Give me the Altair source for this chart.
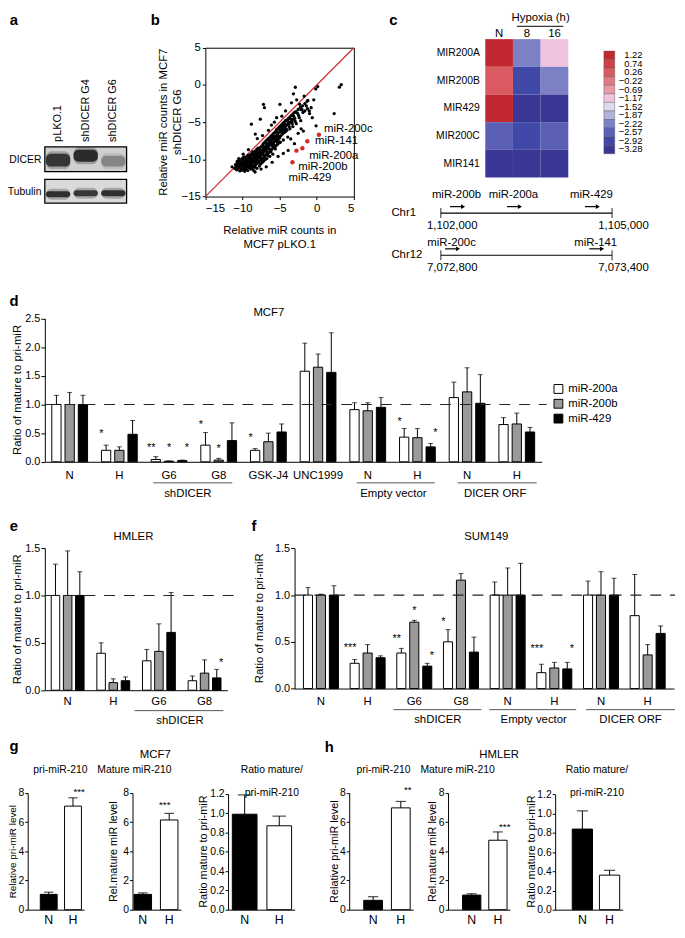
import altair as alt
import pandas as pd

# ======================= DATA =======================
# (a) western blot
blot_lanes = ["pLKO.1", "shDICER G4", "shDICER G6"]
blot_dicer_signal = [0.85, 0.92, 0.35]
blot_tubulin_signal = [0.9, 0.85, 0.9]

# (b) relative miR counts: (MCF7 pLKO.1, MCF7 shDICER G6)
scatter_pairs = [
    (-11.05, -11.2), (-10.95, -10.7), (-10.85, -11.0), (-10.75, -10.55), (-10.8, -11.4),
    (-10.6, -10.9), (-10.55, -10.45), (-10.62, -11.3), (-10.45, -11.1), (-10.38, -10.6),
    (-10.42, -10.15), (-10.35, -11.55), (-10.2, -10.8), (-10.25, -10.35), (-10.15, -11.25),
    (-10.1, -9.95), (-10.02, -10.9), (-9.95, -10.5), (-10.05, -11.45), (-9.9, -10.1),
    (-9.88, -9.75), (-9.8, -10.6), (-9.75, -11.05), (-9.82, -10.25), (-9.7, -11.6),
    (-9.65, -9.7), (-9.6, -10.3), (-9.55, -10.8), (-9.62, -11.2), (-9.5, -9.95),
    (-9.45, -10.5), (-9.4, -10.05), (-9.35, -10.65), (-9.42, -11.0), (-9.3, -9.6),
    (-9.28, -11.5), (-9.2, -10.2), (-9.15, -10.75), (-9.22, -9.45), (-9.1, -11.1),
    (-9.05, -9.9), (-9.0, -10.4), (-8.95, -10.9), (-9.02, -9.5), (-8.9, -11.3),
    (-8.85, -9.7), (-8.8, -10.2), (-8.75, -10.6), (-8.82, -9.25), (-8.7, -11.0),
    (-8.65, -9.4), (-8.6, -9.9), (-8.55, -10.5), (-8.62, -9.0), (-8.5, -10.9),
    (-8.48, -11.5), (-8.4, -9.3), (-8.35, -9.8), (-8.42, -10.3), (-8.3, -8.9),
    (-8.28, -10.8), (-8.2, -9.0), (-8.15, -9.6), (-8.22, -10.1), (-8.1, -8.7),
    (-8.12, -10.6), (-8.05, -11.2), (-8.0, -8.8), (-7.95, -9.4), (-7.98, -9.9),
    (-7.9, -10.4), (-7.92, -8.5), (-7.8, -8.6), (-7.75, -9.1), (-7.82, -9.7),
    (-7.7, -10.2), (-7.72, -10.9), (-7.6, -8.4), (-7.55, -8.9), (-7.62, -9.5),
    (-7.5, -10.0), (-7.52, -10.6), (-7.4, -8.2), (-7.35, -8.8), (-7.42, -9.3),
    (-7.3, -9.9), (-7.32, -10.4), (-7.2, -7.9), (-7.15, -8.5), (-7.22, -9.0),
    (-7.1, -9.6), (-7.12, -10.2), (-7.0, -7.7), (-6.95, -8.3), (-7.02, -8.9),
    (-6.9, -9.4), (-6.92, -10.0), (-6.8, -7.5), (-6.75, -8.1), (-6.82, -8.6),
    (-6.7, -9.2), (-6.72, -9.9), (-6.6, -7.3), (-6.55, -7.9), (-6.62, -8.5),
    (-6.5, -9.1), (-6.4, -7.1), (-6.35, -7.7), (-6.42, -8.2), (-6.3, -8.9),
    (-6.32, -9.6), (-6.2, -6.9), (-6.15, -7.5), (-6.22, -8.0), (-6.1, -8.7),
    (-6.0, -6.7), (-5.95, -7.3), (-6.02, -7.9), (-5.9, -8.5), (-5.92, -9.3),
    (-5.8, -6.5), (-5.75, -7.1), (-5.82, -7.7), (-5.7, -8.4), (-5.6, -6.3),
    (-5.55, -6.9), (-5.62, -7.5), (-5.5, -8.2), (-5.4, -6.0), (-5.35, -6.7),
    (-5.42, -7.3), (-5.3, -8.0), (-5.2, -5.8), (-5.15, -6.4), (-5.22, -7.1),
    (-5.1, -7.8), (-5.0, -5.6), (-4.95, -6.3), (-5.02, -6.9), (-4.9, -7.7),
    (-4.8, -5.4), (-4.75, -6.1), (-4.82, -6.8), (-4.6, -5.2), (-4.55, -5.9),
    (-4.62, -6.6), (-4.5, -7.4), (-4.4, -5.0), (-4.35, -5.7), (-4.42, -6.4),
    (-4.2, -4.8), (-4.15, -5.5), (-4.22, -6.3), (-4.0, -4.7), (-3.95, -5.3),
    (-4.02, -6.1), (-3.9, -7.0), (-3.8, -4.5), (-3.75, -5.2), (-3.6, -4.3),
    (-3.55, -5.0), (-3.62, -5.9), (-3.4, -4.1), (-3.35, -4.9), (-3.2, -3.9),
    (-3.15, -4.6), (-3.22, -5.6), (-3.0, -3.7), (-2.95, -4.5), (-2.8, -3.6),
    (-2.75, -5.2), (-2.5, -3.3), (-2.45, -4.1), (-2.2, -3.0), (-2.15, -4.8),
    (-1.9, -2.8), (-1.85, -3.7), (-1.6, -2.5), (-1.3, -2.2), (-1.25, -3.2), (-1.0, -3.5),
    (-10.7, -10.25), (-10.5, -10.75), (-10.3, -10.95), (-10.1, -10.45), (-9.95, -10.75),
    (-9.85, -11.3), (-9.7, -10.45), (-9.55, -10.05), (-9.45, -11.35), (-9.3, -10.35),
    (-9.18, -10.95), (-9.05, -9.7), (-8.92, -10.55), (-8.78, -9.95), (-8.68, -11.25),
    (-8.58, -10.2), (-8.45, -9.55), (-8.32, -11.05), (-8.25, -10.35), (-8.1, -9.25),
    (-8.02, -10.15), (-7.88, -9.2), (-7.78, -10.5), (-7.66, -8.7), (-7.58, -9.75),
    (-7.45, -9.05), (-7.38, -10.15), (-7.25, -8.25), (-7.18, -9.35), (-7.05, -8.6),
    (-6.98, -9.7), (-6.85, -7.8), (-6.78, -8.9), (-6.65, -8.2), (-6.58, -9.45),
    (-6.45, -7.4), (-6.38, -8.6), (-6.25, -7.75), (-6.18, -9.0), (-6.05, -7.05),
    (-5.98, -8.2), (-5.85, -6.8), (-5.78, -8.0), (-5.65, -7.2), (-5.58, -8.6),
    (-5.45, -6.35), (-5.38, -7.6), (-5.25, -6.75), (-5.18, -7.4), (-5.05, -5.95),
    (-4.98, -7.1), (-4.85, -5.75), (-4.7, -6.4), (-4.58, -5.55), (-4.45, -6.1),
    (-4.3, -5.3), (-4.1, -5.9), (-3.9, -4.9), (-3.7, -5.6), (-3.5, -4.6),
    (-3.3, -5.2), (-3.1, -4.2), (-2.9, -4.9), (-2.6, -3.8), (-2.35, -4.4), (-2.0, -3.3),
    (3.3, 0.04), (3.05, -0.3), (0.13, -0.22), (-0.13, -0.53), (-2.88, -0.31),
    (-3.14, -1.19), (-1.2, -2.08), (-1.4, -2.8), (-0.75, -3.05), (-1.6, -3.5),
    (-0.97, -3.85), (-2.1, -3.3), (2.35, -3.85), (-0.09, -5.49), (-7.17, -2.61),
    (-7.04, -3.05), (-4.96, -2.61), (-8.8, -5.27), (-8.27, -6.6), (-6.5, -6.1),
    (-7.6, -4.6), (-5.7, -5.0), (-4.7, -4.2), (-3.4, -2.4), (-2.5, -6.5),
    (-2.1, -5.9), (-3.5, -7.25), (-3.0, -7.9), (-3.85, -8.8), (-4.5, -9.2),
    (-5.2, -9.6), (-6.0, -10.4), (-6.8, -11.0), (-7.5, -11.3), (-8.3, -11.7),
    (-1.8, -6.2), (-0.6, -4.4), (-2.7, -2.0), (-4.2, -3.5), (-5.4, -4.4),
    (-6.1, -5.4), (-8.0, -7.2), (-9.2, -8.7), (-10.5, -9.9), (-11.4, -11.0),
    (-9.9, -9.3), (-7.3, -6.8), (-2.3, -2.6), (-1.7, -1.5), (-0.4, -2.0),
]
pLKO_counts = [p[0] for p in scatter_pairs]
shDICER_counts = [p[1] for p in scatter_pairs]
red_mirs = ["miR-200c", "miR-141", "miR-200a", "miR-200b", "miR-429"]
red_pLKO = [0.29, -1.27, -1.93, -2.73, -3.27]
red_shDICER = [-6.7, -7.57, -8.5, -8.83, -10.4]

# (c) heatmap + loci
heat_genes = ["MIR200A", "MIR200B", "MIR429", "MIR200C", "MIR141"]
heat_times = ["N", "8", "16"]
heat_values = [
    [1.22, -2.22, -1.17],
    [0.26, -2.92, -2.22],
    [1.22, -3.28, -3.28],
    [-2.57, -2.92, -2.57],
    [-3.28, -3.28, -3.28],
]
legend_breaks = [1.22, 0.74, 0.26, -0.22, -0.69, -1.17, -1.52, -1.87, -2.22, -2.57, -2.92, -3.28]
chr_names = ["Chr1", "Chr12"]
chr_start = [1102000, 7072800]
chr_end = [1105000, 7073400]
mir_names = ["miR-200b", "miR-200a", "miR-429", "miR-200c", "miR-141"]
mir_chr = ["Chr1", "Chr1", "Chr1", "Chr12", "Chr12"]
mir_start = [1102160, 1103160, 1104525, 7072815, 7073320]
mir_end = [1102390, 1103385, 1104750, 7072860, 7073365]

# (d) MCF7
SERIES = ["miR-200a", "miR-200b", "miR-429"]
d_groups = ["N", "H", "G6", "G8", "GSK-J4", "UNC1999", "N_ev", "H_ev", "N_orf", "H_orf"]
d_mean = {
    "miR-200a": [1.0, 0.20, 0.04, 0.29, 0.20, 1.58, 0.91, 0.43, 1.12, 0.65],
    "miR-200b": [1.0, 0.20, 0.01, 0.03, 0.35, 1.65, 0.89, 0.42, 1.22, 0.66],
    "miR-429": [1.0, 0.48, 0.02, 0.37, 0.52, 1.56, 0.95, 0.26, 1.02, 0.52],
}
d_err = {
    "miR-200a": [1.16, 0.29, 0.09, 0.51, 0.23, 2.07, 1.03, 0.58, 1.39, 0.77],
    "miR-200b": [1.21, 0.26, 0.015, 0.06, 0.50, 1.88, 1.03, 0.58, 1.64, 0.85],
    "miR-429": [1.16, 0.72, 0.03, 0.68, 0.66, 2.25, 1.12, 0.32, 1.52, 0.60],
}
d_stars = [("H", "miR-200a", "*", 0.53), ("G6", "miR-200a", "**", 0.30), ("G6", "miR-200b", "*", 0.30),
           ("G6", "miR-429", "*", 0.30), ("G8", "miR-200a", "*", 0.70), ("G8", "miR-200b", "*", 0.28),
           ("GSK-J4", "miR-200a", "*", 0.46), ("H_ev", "miR-200a", "*", 0.75), ("H_ev", "miR-429", "*", 0.55)]

# (e) HMLER
e_groups = ["N", "H", "G6", "G8"]
e_mean = {"miR-200a": [1.0, 0.39, 0.31, 0.10], "miR-200b": [1.0, 0.08, 0.41, 0.18], "miR-429": [1.0, 0.10, 0.61, 0.13]}
e_err = {"miR-200a": [1.33, 0.50, 0.43, 0.15], "miR-200b": [1.47, 0.12, 0.70, 0.32], "miR-429": [1.25, 0.14, 1.03, 0.22]}
e_stars = [("G8", "miR-429", "*", 0.32)]

# (f) SUM149
f_groups = ["N", "H", "G6", "G8", "N_ev", "H_ev", "N_orf", "H_orf"]
f_mean = {
    "miR-200a": [1.0, 0.27, 0.38, 0.50, 1.0, 0.17, 1.0, 0.78],
    "miR-200b": [1.0, 0.38, 0.71, 1.16, 1.0, 0.22, 1.0, 0.36],
    "miR-429": [1.0, 0.33, 0.24, 0.39, 1.0, 0.21, 1.0, 0.59],
}
f_err = {
    "miR-200a": [1.08, 0.31, 0.43, 0.63, 1.14, 0.26, 1.15, 1.22],
    "miR-200b": [1.01, 0.47, 0.73, 1.23, 1.29, 0.28, 1.25, 0.47],
    "miR-429": [1.10, 0.35, 0.27, 0.55, 1.34, 0.28, 1.18, 0.67],
}
f_stars = [("H", "miR-200a", "***", 0.47), ("G6", "miR-200a", "**", 0.56), ("G6", "miR-200b", "*", 0.86),
           ("G6", "miR-429", "*", 0.38), ("G8", "miR-200a", "*", 0.74), ("H_ev", "miR-200a", "***", 0.45),
           ("H_ev", "miR-429", "*", 0.45)]

# (g) MCF7 / (h) HMLER, N vs H
g_pri_mean, g_pri_err, g_pri_star = [1.05, 7.1], [1.2, 7.67], ("H", "***", 8.3)
g_mat_mean, g_mat_err, g_mat_star = [1.05, 6.15], [1.15, 6.6], ("H", "***", 7.4)
g_ratio_mean, g_ratio_err = [0.99, 0.87], [1.19, 0.97]
h_pri_mean, h_pri_err, h_pri_star = [0.64, 6.98], [0.89, 7.42], ("H", "**", 8.4)
h_mat_mean, h_mat_err, h_mat_star = [1.0, 4.76], [1.09, 5.33], ("H", "***", 5.9)
h_ratio_mean, h_ratio_err = [0.84, 0.36], [1.03, 0.41]

# ======================= STYLE / LAYOUT =======================
FONT = "Liberation Sans"
W, H = 677, 922
SERIES_FILL = {"miR-200a": "#ffffff", "miR-200b": "#9a9a9a", "miR-429": "#000000"}
HEAT_COLORS = ["#3b3794", "#4049a8", "#5b60b4", "#7c81c5", "#b2b1dc", "#dedaf0",
               "#f0c4df", "#e99aa6", "#e27a84", "#da5a62", "#d13f47", "#c2282f"]


def X(r):
    return r * 52.0 / 60.0 if r < 60 else r - 8.0


def Y(r):
    c = r - 8.0
    if r > 560:
        c -= 6.0 * (r - 560) / 376.0
    return c


layers = []


def txt(s, x, y, size=11, align="center", weight="normal", angle=0, baseline="middle", lh=None, xc=None):
    kw = dict(font=FONT, fontSize=size, align=align, baseline=baseline, fontWeight=weight, color="black")
    if angle:
        kw["angle"] = angle
    if "\n" in s:
        kw["lineBreak"] = "\n"
        kw["lineHeight"] = lh if lh else size + 3
    xv = xc if xc is not None else X(x)
    return alt.Chart(alt.Data(values=[{"t": s}])).mark_text(**kw).encode(
        text="t:N", x=alt.value(xv), y=alt.value(Y(y)))


def hline(x1, x2, y, width=1.0, color="black"):
    return alt.Chart(alt.Data(values=[{"t": 1}])).mark_rule(color=color, strokeWidth=width).encode(
        x=alt.value(X(x1)), x2=alt.value(X(x2)), y=alt.value(Y(y)))


# ---------- panel letters ----------
for letter, lx, ly in [("a", 7, 15), ("b", 157, 15), ("c", 398, 15), ("d", 7, 299), ("e", 7, 527),
                       ("f", 257, 527), ("g", 7, 752), ("h", 333, 753)]:
    layers.append(txt(letter, lx, ly, size=15, weight="bold"))

# ---------- (a) blot ----------
lane_scale = alt.Scale(domain=blot_lanes, range=[X(43), X(128)], paddingInner=0.12, paddingOuter=0.04)
blot_boxes = [("DICER", 143, 168, "#cfcfcf", blot_dicer_signal, [150, 146, 152], [163, 158, 163]),
              ("Tubulin", 176, 200, "#dadada", blot_tubulin_signal, [188, 187, 187], [194, 193, 193])]
for name, top, bot, bg, sig, btop, bbot in blot_boxes:
    layers.append(alt.Chart(alt.Data(values=[{"t": 1}])).mark_rect(fill=bg, stroke="black", strokeWidth=1.3).encode(
        x=alt.value(X(43)), x2=alt.value(X(128)), y=alt.value(Y(top)), y2=alt.value(Y(bot))))
    gel = alt.Scale(domain=[top, bot], range=[Y(top), Y(bot)], nice=False, zero=False)
    df = pd.DataFrame({"lane": blot_lanes, "s": sig, "t": btop, "b": bbot})
    df["halo"] = df["s"] * 0.3
    df["t2"] = df["t"] - 2.5
    df["b2"] = df["b"] + 2.5
    layers.append(alt.Chart(df).mark_rect(color="#1a1a1a", cornerRadius=6).encode(
        x=alt.X("lane:N", scale=lane_scale, axis=None), y=alt.Y("t2:Q", scale=gel, axis=None), y2="b2",
        opacity=alt.Opacity("halo:Q", scale=None)))
    layers.append(alt.Chart(df).mark_rect(color="#222222", cornerRadius=5).encode(
        x=alt.X("lane:N", scale=lane_scale, axis=None), y=alt.Y("t:Q", scale=gel, axis=None), y2="b",
        opacity=alt.Opacity("s:Q", scale=None)))
    layers.append(txt(name, 39, (top + bot) / 2 + 1, size=10.5, align="right"))
layers.append(alt.Chart(pd.DataFrame({"lane": blot_lanes})).mark_text(
    font=FONT, fontSize=11, angle=270, align="left", baseline="middle", color="black").encode(
    x=alt.X("lane:N", scale=lane_scale, axis=None), y=alt.value(Y(138)), text="lane:N"))

# ---------- (b) scatter ----------
bxs = alt.Scale(domain=[-15, 5], range=[X(207.7), X(358)], nice=False, zero=False)
bys = alt.Scale(domain=[-15, 5], range=[Y(193.3), Y(42.7)], nice=False, zero=False)
ticks_b = [-15, -10, -5, 0, 5]
diag = pd.DataFrame({"x": [-15], "y": [-15], "x2": [5], "y2": [5]})
layers.append(alt.Chart(diag).mark_rule(color="#cc2a2a", strokeWidth=1.2).encode(
    x=alt.X("x:Q", scale=bxs, axis=alt.Axis(orient="top", offset=-Y(42.7), labels=False, ticks=False, title=None)),
    y=alt.Y("y:Q", scale=bys, axis=alt.Axis(orient="right", offset=X(358) - W, labels=False, ticks=False, title=None)),
    x2="x2", y2="y2"))
sdf = pd.DataFrame({"x": pLKO_counts, "y": shDICER_counts})
layers.append(alt.Chart(sdf).mark_circle(size=11, color="black", opacity=1).encode(
    x=alt.X("x:Q", scale=bxs, axis=alt.Axis(orient="bottom", offset=Y(193.3) - H, values=ticks_b, tickSize=3,
                                             labelPadding=3, title=None, labelFontSize=11.5)),
    y=alt.Y("y:Q", scale=bys, axis=alt.Axis(orient="left", offset=-X(207.7), values=ticks_b, tickSize=3,
                                             labelPadding=2, title=None, labelFontSize=11.5))))
rdf = pd.DataFrame({"x": red_pLKO, "y": red_shDICER, "m": red_mirs})
layers.append(alt.Chart(rdf).mark_circle(size=20, color="#d42a2a", opacity=1).encode(
    x=alt.X("x:Q", scale=bxs, axis=None), y=alt.Y("y:Q", scale=bys, axis=None)))
red_label_pos = {"miR-200c": (0.98, -5.93), "miR-141": (-0.22, -7.52), "miR-200a": (-1.02, -9.52),
                 "miR-200b": (-2.48, -10.98), "miR-429": (-3.8, -12.57)}
ldf = pd.DataFrame({"m": red_mirs, "lx": [red_label_pos[m][0] for m in red_mirs],
                    "ly": [red_label_pos[m][1] for m in red_mirs]})
layers.append(alt.Chart(ldf).mark_text(font=FONT, fontSize=11.5, align="left", baseline="middle",
                                       color="black").encode(
    x=alt.X("lx:Q", scale=bxs, axis=None), y=alt.Y("ly:Q", scale=bys, axis=None), text="m:N"))
layers.append(txt("Relative miR counts in MCF7\nshDICER G6", 165.5, 118, size=11.5, angle=270, lh=15))
layers.append(txt("Relative miR counts in\nMCF7 pLKO.1", 283, 228, size=11.5, lh=14))

# ---------- (c) heatmap ----------
asc = sorted(legend_breaks)
thresholds = [(a + b) / 2 for a, b in zip(asc[:-1], asc[1:])]
cscale = alt.Scale(type="threshold", domain=thresholds, range=HEAT_COLORS)
hrows = [{"gene": g, "time": t, "z": heat_values[i][j]} for i, g in enumerate(heat_genes)
         for j, t in enumerate(heat_times)]
layers.append(alt.Chart(pd.DataFrame(hrows)).mark_rect().encode(
    x=alt.X("time:N", sort=heat_times,
            scale=alt.Scale(domain=heat_times, range=[X(491), X(575)], paddingInner=0, paddingOuter=0),
            axis=alt.Axis(orient="top", offset=-Y(34), ticks=False, tickSize=0, domain=False, labelPadding=1,
                          labelAngle=0, title=None, labelFontSize=11.5)),
    y=alt.Y("gene:N", sort=heat_genes,
            scale=alt.Scale(domain=heat_genes, range=[Y(34), Y(174)], paddingInner=0, paddingOuter=0),
            axis=alt.Axis(orient="left", offset=-X(491), ticks=False, tickSize=0, domain=False, labelPadding=6,
                          title=None, labelFontSize=10.5)),
    color=alt.Color("z:Q", scale=cscale, legend=None)))
layers.append(txt("Hypoxia (h)", 547, 13, size=11.5))
layers.append(hline(523, 570, 21))
leg_labels = [("%.2f" % v).replace("-", "\u2212") for v in legend_breaks]
legdf = pd.DataFrame({"lab": leg_labels, "z": legend_breaks})
leg_y = alt.Scale(domain=leg_labels, range=[Y(46), Y(150)], paddingInner=0, paddingOuter=0)
layers.append(alt.Chart(legdf).mark_rect(stroke="#555555", strokeWidth=0.4).encode(
    y=alt.Y("lab:N", sort=leg_labels, scale=leg_y, axis=None), x=alt.value(X(611)), x2=alt.value(X(622)),
    color=alt.Color("z:Q", scale=cscale, legend=None)))
layers.append(alt.Chart(legdf).mark_text(font=FONT, fontSize=9.5, align="right", baseline="middle",
                                         color="black").encode(
    y=alt.Y("lab:N", sort=leg_labels, scale=leg_y, axis=None), x=alt.value(X(650)), text="lab:N"))

# loci
chr_y = alt.Scale(type="point", domain=chr_names, range=[Y(210), Y(252.7)], padding=0)
label_dy = {"Chr1": -18.3, "Chr12": -12.0}
for ci, cname in enumerate(chr_names):
    gs = alt.Scale(domain=[chr_start[ci], chr_end[ci]], range=[X(446), X(619.3)], nice=False, zero=False)
    ldf2 = pd.DataFrame({"chr": [cname], "s": [chr_start[ci]], "e": [chr_end[ci]]})
    layers.append(alt.Chart(ldf2).mark_rule(color="black", strokeWidth=1.2).encode(
        x=alt.X("s:Q", scale=gs, axis=None), x2="e", y=alt.Y("chr:N", scale=chr_y, axis=None)))
    edf = pd.DataFrame({"chr": [cname, cname], "p": [chr_start[ci], chr_end[ci]],
                        "lab": ["{:,}".format(chr_start[ci]), "{:,}".format(chr_end[ci])]})
    layers.append(alt.Chart(edf).mark_tick(orient="vertical", size=10, thickness=1.2, color="black").encode(
        x=alt.X("p:Q", scale=gs, axis=None), y=alt.Y("chr:N", scale=chr_y, axis=None)))
    layers.append(alt.Chart(edf).mark_text(font=FONT, fontSize=11.5, dx=11.5, dy=13.3, color="black").encode(
        x=alt.X("p:Q", scale=gs, axis=None), y=alt.Y("chr:N", scale=chr_y, axis=None), text="lab:N"))
    mdf = pd.DataFrame({"m": mir_names, "chr": mir_chr, "s": mir_start, "e": mir_end})
    mdf = mdf[mdf["chr"] == cname].copy()
    mdf["mid"] = (mdf["s"] + mdf["e"]) / 2
    layers.append(alt.Chart(mdf).mark_rule(color="black", strokeWidth=1.2, yOffset=-6.5).encode(
        x=alt.X("s:Q", scale=gs, axis=None), x2="e", y=alt.Y("chr:N", scale=chr_y, axis=None)))
    layers.append(alt.Chart(mdf).mark_point(shape="triangle-right", filled=True, size=22, color="black",
                                            opacity=1, yOffset=-6.5).encode(
        x=alt.X("e:Q", scale=gs, axis=None), y=alt.Y("chr:N", scale=chr_y, axis=None)))
    layers.append(alt.Chart(mdf).mark_text(font=FONT, fontSize=11.5, dy=label_dy[cname], color="black").encode(
        x=alt.X("mid:Q", scale=gs, axis=None), y=alt.Y("chr:N", scale=chr_y, axis=None), text="m:N"))
layers.append(alt.Chart(pd.DataFrame({"chr": chr_names})).mark_text(
    font=FONT, fontSize=11.5, align="left", baseline="middle", color="black").encode(
    x=alt.value(X(396)), y=alt.Y("chr:N", scale=chr_y, axis=None), text="chr:N"))


# ---------- grouped bar panels ----------
def bar_panel(groups, vals, errs, stars, x0, x1, pi, po, ybase, ytop, ydom, yticks, dash_end,
              label_pad, sub_pi=0.3, cap=5):
    n = len(groups)
    xa, xb = X(x0), X(x1)
    step = (xb - xa) / (n - pi + 2 * po)
    bw = step * (1 - pi)
    xs = alt.Scale(domain=groups, range=[xa, xb], paddingInner=pi, paddingOuter=po)
    xo = alt.Scale(domain=SERIES, range=[0, bw], paddingInner=sub_pi, paddingOuter=0)
    ys = alt.Scale(domain=ydom, range=[Y(ybase), Y(ytop)], nice=False, zero=False)
    rows = []
    for s in SERIES:
        for g, v, e in zip(groups, vals[s], errs[s]):
            rows.append({"g": g, "s": s, "v": v, "e": e, "fill": SERIES_FILL[s]})
    df = pd.DataFrame(rows)
    xax = alt.Axis(orient="bottom", offset=Y(ybase) - H, ticks=False, tickSize=0, labelPadding=label_pad,
                   labelAngle=0, labelExpr="split(datum.label, '_')[0]", title=None, labelFontSize=11.5)
    yax = alt.Axis(orient="left", offset=-xa, values=yticks, format=".1f", tickSize=4, labelPadding=1,
                   title=None, labelFontSize=11)
    X0 = alt.X("g:N", scale=xs, sort=groups, axis=None)
    XO = alt.XOffset("s:N", scale=xo, sort=SERIES)
    out = [
        alt.Chart(df).mark_bar(stroke="black", strokeWidth=1).encode(
            x=alt.X("g:N", scale=xs, sort=groups, axis=xax), xOffset=XO,
            y=alt.Y("v:Q", scale=ys, axis=yax), fill=alt.Fill("fill:N", scale=None)),
        alt.Chart(df).mark_rule(color="black", strokeWidth=1).encode(
            x=X0, xOffset=XO, y=alt.Y("v:Q", scale=ys, axis=None), y2="e"),
        alt.Chart(df).mark_tick(orient="horizontal", size=cap, thickness=1, color="black").encode(
            x=X0, xOffset=XO, y=alt.Y("e:Q", scale=ys, axis=None)),
        alt.Chart(alt.Data(values=[{"v": 1.0}])).mark_rule(color="#222222", strokeWidth=1.1,
                                                          strokeDash=[11, 9]).encode(
            x=alt.value(xa), x2=alt.value(X(dash_end)), y=alt.Y("v:Q", scale=ys, axis=None)),
    ]
    if stars:
        sdf2 = pd.DataFrame(stars, columns=["g", "s", "t", "y"])
        out.append(alt.Chart(sdf2).mark_text(font=FONT, fontSize=11, dy=3, color="black").encode(
            x=X0, xOffset=XO, y=alt.Y("y:Q", scale=ys, axis=None), text="t:N"))
    return out


# (d)
layers += bar_panel(d_groups, d_mean, d_err, d_stars, 43, 548, 0.28, 0.14, 461.7, 316.7, [0, 2.5],
                    [0, 0.5, 1.0, 1.5, 2.0, 2.5], 553, label_pad=8)
layers.append(txt("MCF7", 272, 311, size=11.5))
layers.append(txt("Ratio of mature to pri-miR", 12, 389, size=11.5, angle=270))
for x1, x2, xt, lab in [(155, 235, 190, "shDICER"), (361, 440, 398, "Empty vector"), (463, 543, 501, "DICER ORF")]:
    layers.append(hline(x1, x2, 483, color="#555555"))
    layers.append(txt(lab, xt, 494, size=11.5))
leg_s = alt.Scale(type="point", domain=SERIES, range=[Y(388), Y(418)], padding=0)
legd = pd.DataFrame({"s": SERIES, "fill": [SERIES_FILL[s] for s in SERIES]})
layers.append(alt.Chart(legd).mark_point(shape="square", filled=True, size=80, stroke="black",
                                         strokeWidth=1, opacity=1).encode(
    x=alt.value(X(565)), y=alt.Y("s:N", scale=leg_s, axis=None), fill=alt.Fill("fill:N", scale=None)))
layers.append(alt.Chart(legd).mark_text(font=FONT, fontSize=11.5, align="left", baseline="middle",
                                        color="black").encode(
    x=alt.value(X(575)), y=alt.Y("s:N", scale=leg_s, axis=None), text="s:N"))

# (e)
layers += bar_panel(e_groups, e_mean, e_err, e_stars, 43, 230, 0.28, 0.14, 695, 549, [0, 1.5],
                    [0, 0.5, 1.0, 1.5], 238, label_pad=5)
layers.append(txt("HMLER", 135, 538, size=11.5))
layers.append(txt("Ratio of mature to pri-miR", 12, 622, size=11.5, angle=270))
layers.append(hline(136, 226, 716, color="#555555"))
layers.append(txt("shDICER", 182, 727, size=11.5))

# (f)
layers += bar_panel(f_groups, f_mean, f_err, f_stars, 298, 682, 0.25, 0.19, 693.3, 549.3, [0, 1.5],
                    [0, 0.5, 1.0, 1.5], 683, label_pad=7)
layers.append(txt("SUM149", 492, 538, size=11.5))
layers.append(txt("Ratio of mature to pri-miR", 263, 621, size=11.5, angle=270))
for x1, x2, xt, lab in [(398, 487, 443, "shDICER"), (495, 583, 540, "Empty vector"), (593, 683, 638, "DICER ORF")]:
    layers.append(hline(x1, x2, 715, color="#555555"))
    layers.append(txt(lab, xt, 726, size=11.5))


# ---------- (g), (h) ----------
def mini_panel(mean, err, star, ax, n0, n1, h0, h1, end, ydom, yticks, yfmt, ytop, ybase=920.7):
    keys = ["N", "H"]
    xa, xe = X(ax), X(end)
    w = ((X(n1) - X(n0)) + (X(h1) - X(h0))) / 2
    gap = X(h0) - X(n1)
    step = w + gap
    pi = gap / step
    leftover = (xe - xa) - (2 * step - gap)
    po = leftover / (2 * step)
    align = (X(n0) - xa) / leftover
    xs = alt.Scale(domain=keys, range=[xa, xe], paddingInner=pi, paddingOuter=po, align=align)
    ys = alt.Scale(domain=ydom, range=[Y(ybase), Y(ytop)], nice=False, zero=False)
    df = pd.DataFrame({"k": keys, "v": mean, "e": err, "fill": ["#000000", "#ffffff"]})
    X0 = alt.X("k:N", scale=xs, sort=keys, axis=None)
    out = [
        alt.Chart(df).mark_bar(stroke="black", strokeWidth=1).encode(
            x=alt.X("k:N", scale=xs, sort=keys,
                    axis=alt.Axis(orient="bottom", offset=Y(ybase) - H, ticks=False, tickSize=0, labelPadding=4,
                                  labelAngle=0, title=None, labelFontSize=12.5)),
            y=alt.Y("v:Q", scale=ys, axis=alt.Axis(orient="left", offset=-xa, values=yticks, format=yfmt,
                                                   tickSize=3, labelPadding=1, title=None, labelFontSize=10.5)),
            fill=alt.Fill("fill:N", scale=None)),
        alt.Chart(df).mark_rule(color="black", strokeWidth=1).encode(
            x=X0, y=alt.Y("v:Q", scale=ys, axis=None), y2="e"),
        alt.Chart(df).mark_tick(orient="horizontal", size=w * 0.55, thickness=1.2, color="black").encode(
            x=X0, y=alt.Y("e:Q", scale=ys, axis=None)),
    ]
    if star:
        sd = pd.DataFrame({"k": [star[0]], "t": [star[1]], "y": [star[2]]})
        out.append(alt.Chart(sd).mark_text(font=FONT, fontSize=10, dy=3, color="black").encode(
            x=X0, y=alt.Y("y:Q", scale=ys, axis=None), text="t:N"))
    return out


t8 = [0, 2, 4, 6, 8]
t12 = [0, 0.2, 0.4, 0.6, 0.8, 1.0, 1.2]
layers += mini_panel(g_pri_mean, g_pri_err, g_pri_star, 23, 37.7, 56, 64, 82.3, 85, [0, 8], t8, "d", 800.7)
layers += mini_panel(g_mat_mean, g_mat_err, g_mat_star, 134, 135.5, 152.7, 161.7, 180, 183, [0, 8], t8, "d", 800.7)
layers += mini_panel(g_ratio_mean, g_ratio_err, None, 230.7, 235, 260, 270, 295, 298, [0, 1.2], t12, ".1f", 801.7)
layers += mini_panel(h_pri_mean, h_pri_err, h_pri_star, 353.3, 368, 388, 397, 415, 418, [0, 8], t8, "d", 800.7)
layers += mini_panel(h_mat_mean, h_mat_err, h_mat_star, 453.3, 468, 487, 495, 513, 516, [0, 8], t8, "d", 800.7)
layers += mini_panel(h_ratio_mean, h_ratio_err, None, 561.7, 579, 600, 607, 627, 630, [0, 1.2], t12, ".1f", 802.3)

layers.append(txt("MCF7", 157, 762, size=11.5))
layers.append(txt("pri-miR-210", 61, 777, size=10.5))
layers.append(txt("Mature miR-210", 136, 777, size=10.5))
layers.append(txt("Ratio mature/\npri-miR-210", 275, 777, size=10.5, lh=23))
layers.append(txt("HMLER", 505, 762, size=11.5))
layers.append(txt("pri-miR-210", 388, 777, size=10.5))
layers.append(txt("Mature miR-210", 463, 777, size=10.5))
layers.append(txt("Ratio mature/\npri-miR-210", 604, 777, size=10.5, lh=23))
layers.append(txt("Relative pri-miR level", 0, 861, size=10, angle=270, xc=5.2))
for tt, tx in [("Rel.mature miR level", 115), ("Ratio mature to pri-miR", 206),
               ("Relative pri-miR level", 339), ("Rel.mature miR level", 438), ("Ratio mature to pri-miR", 538)]:
    layers.append(txt(tt, tx, 861, size=11, angle=270))

chart = alt.layer(*layers).resolve_scale(
    x="independent", y="independent", xOffset="independent", color="independent"
).properties(
    width=W, height=H, padding=0, autosize=alt.AutoSizeParams(type="none")
).configure_view(strokeWidth=0).configure_axis(
    grid=False, labelFont=FONT, labelColor="black", domainColor="black", tickColor="black",
    domainWidth=1, tickWidth=1
)

chart.save("out.html", embed_options={"renderer": "svg", "actions": False})
